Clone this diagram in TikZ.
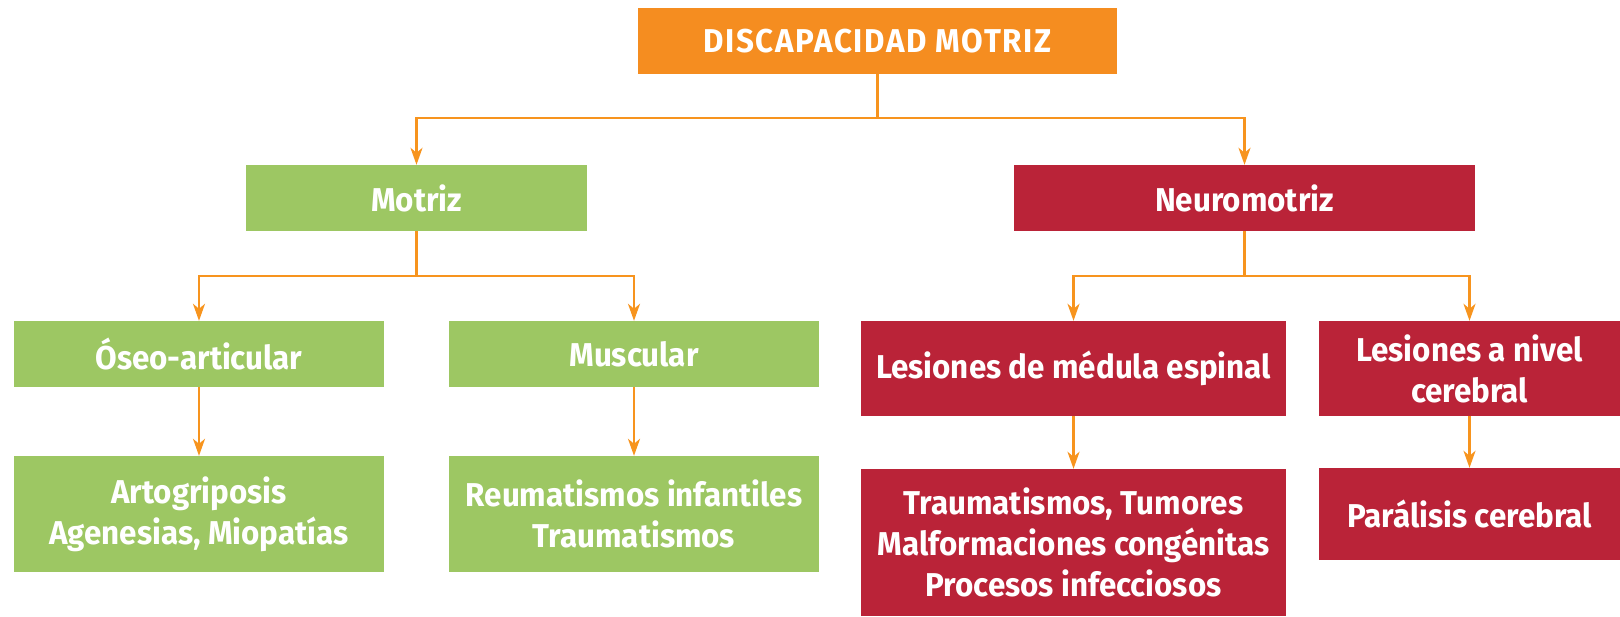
\documentclass[tikz,border=0pt]{standalone}
\usepackage{fontspec}
\setmainfont{Fira Sans}[FakeStretch=0.95]
\usetikzlibrary{arrows.meta}
\definecolor{orng}{HTML}{F58D20}
\definecolor{lorng}{HTML}{F7941E}
\definecolor{grn}{HTML}{9DC763}
\definecolor{rd}{HTML}{BA2338}
\begin{document}
\begin{tikzpicture}[x=1pt,y=-1pt,
  box/.style={rectangle,inner sep=0pt,text=white,align=center,
    font=\fontsize{33}{41}\selectfont\bfseries},
  obox/.style={box,fill=orng},
  gbox/.style={box,fill=grn},
  rbox/.style={box,fill=rd},
  arr/.style={draw=lorng,line width=2.4pt,-{Stealth[length=17pt,width=12pt,inset=5pt]}}]
\useasboundingbox (0,0) rectangle (1620,616);
\node[obox,minimum width=479pt,minimum height=66pt] (top) at (877.5,41) {\addfontfeature{LetterSpace=5}DISCAPACIDAD MOTRIZ};
\node[gbox,minimum width=341pt,minimum height=66pt] (motriz) at (416.5,198) {Motriz};
\node[rbox,minimum width=461pt,minimum height=66pt] (neuro) at (1244.5,198) {Neuromotriz};
\node[gbox,minimum width=370pt,minimum height=66pt] (oseo) at (199,354) {Óseo-articular};
\node[gbox,minimum width=370pt,minimum height=66pt] (musc) at (634,354) {Muscular};
\node[rbox,minimum width=425pt,minimum height=95pt] (medula) at (1073.5,368.5) {Lesiones de médula espinal};
\node[rbox,minimum width=301pt,minimum height=95pt] (nivel) at (1469.5,368.5) {Lesiones a nivel\\cerebral};
\node[gbox,minimum width=370pt,minimum height=116pt] (arto) at (199,514) {Artogriposis\\Agenesias, Miopatías};
\node[gbox,minimum width=370pt,minimum height=116pt] (reuma) at (634,514) {Reumatismos infantiles\\Traumatismos};
\node[rbox,minimum width=425pt,minimum height=147pt] (trauma) at (1073.5,542.5) {Traumatismos, Tumores\\Malformaciones congénitas\\Procesos infecciosos};
\node[rbox,minimum width=301pt,minimum height=92pt] (paral) at (1469.5,514) {Parálisis cerebral};
\draw[arr] (top.south) -- ++(0,44) -| (motriz.north);
\draw[arr] (top.south) -- ++(0,44) -| (neuro.north);
\draw[arr] (motriz.south) -- ++(0,45) -| (oseo.north);
\draw[arr] (motriz.south) -- ++(0,45) -| (musc.north);
\draw[arr] (neuro.south) -- ++(0,45) -| (medula.north);
\draw[arr] (neuro.south) -- ++(0,45) -| (nivel.north);
\draw[arr] (oseo.south) -- (arto.north);
\draw[arr] (musc.south) -- (reuma.north);
\draw[arr] (medula.south) -- (trauma.north);
\draw[arr] (nivel.south) -- (paral.north);
\end{tikzpicture}
\end{document}
